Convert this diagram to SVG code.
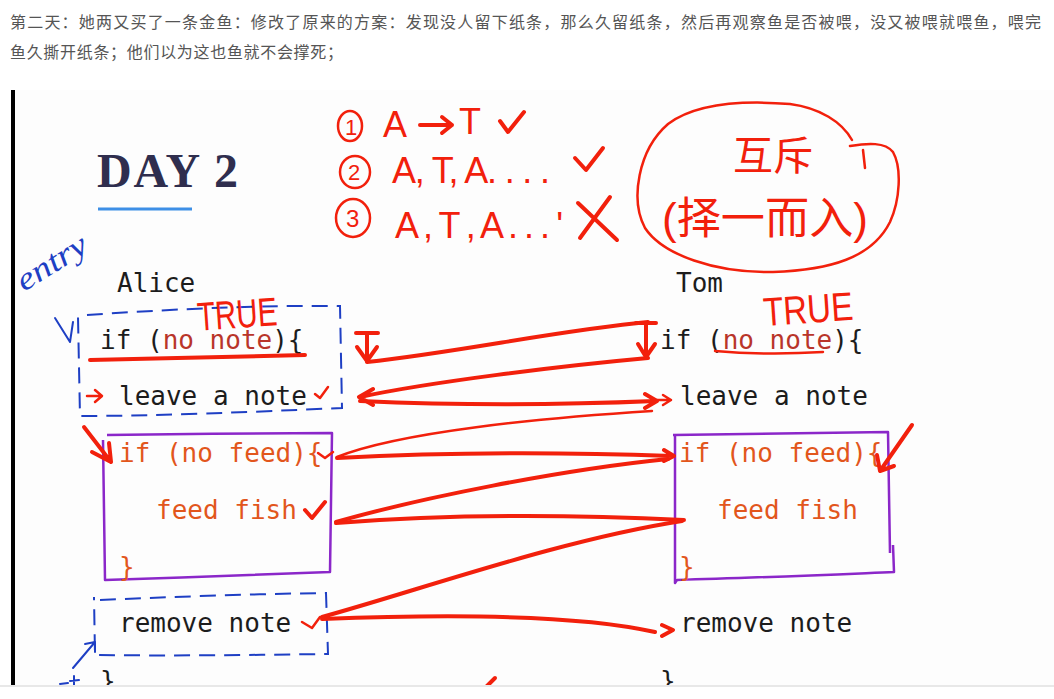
<svg xmlns="http://www.w3.org/2000/svg" width="1054" height="699" viewBox="0 0 1054 699">
<style>
.para{font-family:"Noto Sans CJK SC","Noto Sans",sans-serif;font-size:16px;fill:#555555}
.code{font-family:"DejaVu Sans Mono","Liberation Mono",monospace;font-size:26px;fill:#1c1c1c}
.or{fill:#e2561c}
.nn{fill:#b9352a}
.hand{font-family:"Liberation Sans",sans-serif;fill:#f2200c}
.handcjk{font-family:"Liberation Sans","Noto Sans CJK SC",sans-serif;fill:#f2200c}
.r{stroke:#f2200c;fill:none;stroke-linecap:round;stroke-linejoin:round;stroke-width:4}
.rt{stroke:#f2200c;fill:none;stroke-linecap:round;stroke-linejoin:round;stroke-width:2.5}
.b{stroke:#1e3fc4;fill:none;stroke-linecap:round;stroke-linejoin:round;stroke-width:2}
.bd{stroke:#1e3fc4;fill:none;stroke-width:2;stroke-dasharray:16 9}
.p{stroke:#8b27c9;fill:none;stroke-width:2.5;stroke-linejoin:round}
</style>
<rect width="1054" height="699" fill="#ffffff"/>
<g id="paragraph">
<text class="para" x="10" y="28" textLength="1031" lengthAdjust="spacing">第二天：她两又买了一条金鱼：修改了原来的方案：发现没人留下纸条，那么久留纸条，然后再观察鱼是否被喂，没又被喂就喂鱼，喂完</text>
<text class="para" x="10" y="58" textLength="333" lengthAdjust="spacing">鱼久撕开纸条；他们以为这也鱼就不会撑死；</text>
</g>
<g id="slide">
<rect x="14" y="90" width="1040" height="596" fill="#fdfdfd"/>
<rect x="11" y="90" width="4" height="596" fill="#000"/>
</g>
<g id="title">
<text x="97" y="187" font-family="Liberation Serif,serif" font-weight="bold" font-size="48" fill="#2f2e4e" textLength="141" lengthAdjust="spacing">DAY 2</text>
<line x1="98" y1="209" x2="192" y2="209" stroke="#3d8fe6" stroke-width="3"/>
</g>
<g id="cases">
<ellipse class="rt" cx="350" cy="126" rx="12" ry="15"/>
<text class="hand" x="345" y="135" font-size="22">1</text>
<text class="hand" x="383" y="137" font-size="36">A</text>
<path class="r" d="M420,125 L452,125 M442,117 L452,125 L442,133"/>
<text class="hand" x="459" y="134" font-size="36">T</text>
<path class="r" d="M500,121 L508,132 L524,112"/>
<ellipse class="rt" cx="355" cy="172" rx="15" ry="16"/>
<text class="hand" x="348" y="180" font-size="22">2</text>
<text class="hand" x="392" y="183" font-size="36" textLength="158" lengthAdjust="spacing">A, T, A. . . .</text>
<path class="r" d="M575,158 L586,170 L603,148"/>
<ellipse class="rt" cx="353" cy="218" rx="17" ry="19"/>
<text class="hand" x="346" y="227" font-size="24">3</text>
<text class="hand" x="395" y="238" font-size="36" textLength="168" lengthAdjust="spacing">A , T , A . . . '</text>
<path class="r" d="M578,203 L617,240 M610,197 L580,238"/>
</g>
<g id="mutex">
<path class="rt" d="M850,146 C868,143 885,142 893,152 C902,168 900,200 890,222 C872,258 830,270 773,272 C715,273 663,255 645,228 C630,200 638,150 668,124 C695,104 740,100 790,104 C820,108 842,122 852,140"/>
<path class="rt" d="M863,150 L865,168"/>
<text class="handcjk" x="733" y="170" font-size="40">互斥</text>
<text class="handcjk" x="662" y="234" font-size="44" textLength="206" lengthAdjust="spacingAndGlyphs">(择一而入)</text>
</g>
<g id="alice">
<g id="alice-name"><text class="code" x="117" y="292">Alice</text></g>
<g id="alice-if-note"><text class="code" x="100" y="349">if (<tspan class="nn">no note</tspan>){</text></g>
<g id="alice-leave"><text class="code" x="119" y="405">leave a note</text></g>
<g id="alice-feed-block">
<path class="p" d="M107,435 C180,434 260,433 332,433 L330,572 C260,574 180,578 105,580 L103,440"/>
<text class="code or" x="119" y="462">if (no feed){</text>
<text class="code or" x="156" y="519">feed fish</text>
<text class="code or" x="119" y="576">}</text>
</g>
<g id="alice-remove"><text class="code" x="119" y="632">remove note</text></g>
<g id="alice-end"><text class="code" x="100" y="690">}</text></g>
<path class="bd" d="M87,315 C160,310 250,305 340,306 L342,408 C250,412 160,416 80,416 L78,317"/>
<path class="bd" d="M100,600 C170,597 250,594 326,593 L328,654 C250,655 170,656 95,655 L94,597"/>
</g>
<g id="tom">
<g id="tom-name"><text class="code" x="676" y="292">Tom</text></g>
<g id="tom-if-note"><text class="code" x="660" y="349">if (<tspan class="nn">no note</tspan>){</text></g>
<g id="tom-leave"><text class="code" x="680" y="405">leave a note</text></g>
<g id="tom-feed-block">
<path class="p" d="M673,435 C750,434 820,433 888,432 L890,553 M893,545 L894,572 C820,575 750,578 677,580 L675,583 L675,435"/>
<text class="code or" x="679" y="462">if (no feed){</text>
<text class="code or" x="717" y="519">feed fish</text>
<text class="code or" x="679" y="576">}</text>
</g>
<g id="tom-remove"><text class="code" x="680" y="632">remove note</text></g>
<g id="tom-end"><text class="code" x="660" y="690">}</text></g>
</g>
<g id="annotations">
<text x="24" y="292" transform="rotate(-32 24 292)" font-family="Liberation Serif,serif" font-style="italic" font-size="32" fill="#1e3fc4" textLength="78" lengthAdjust="spacingAndGlyphs">entry</text>
<path class="b" d="M55,318 L70,342 L73,322"/>
<path class="b" d="M73,668 L95,642 M85,644 L95,642 L95,652"/>
<path class="b" d="M60,684 L68,683 M74,676 L74,688 M70,681 L79,680"/>
<text class="hand" x="197" y="328" font-size="40" textLength="80" lengthAdjust="spacingAndGlyphs" transform="rotate(-4 237 312)">TRUE</text>
<text class="hand" x="763" y="323" font-size="40" textLength="90" lengthAdjust="spacingAndGlyphs" transform="rotate(-4 808 308)">TRUE</text>
<path class="r" d="M90,360 C160,358 240,357 305,355"/>
<path class="rt" d="M715,351 C750,354 790,354 823,352"/>
<path class="rt" d="M87,396 L101,396 M95,390 L102,396 L95,402"/>
<path class="rt" d="M315,394 L320,398 L328,387"/>
<path class="rt" d="M318,453 L325,458 L333,452"/>
<path class="r" d="M305,510 L312,518 L325,502"/>
<path class="rt" d="M302,622 L312,628 L320,617"/>
<path class="r" d="M84,427 L111,462 M92,452 L111,462 L109,443"/>
<path class="r" d="M912,425 L880,471 M877,455 L880,471 L894,466"/>
<path class="r" d="M486,687 L495,678"/>
</g>
<g id="connectors">
<path class="r" stroke-width="5" d="M356,333 L378,333 M367,333 L367,360 M357,347 L367,361 L377,347"/>
<path class="r" d="M367,362 C460,352 560,330 648,322"/>
<path class="r" stroke-width="5" d="M636,323 L656,323 M646,323 L646,356 M638,344 L646,357 L655,344"/>
<path class="r" d="M648,358 C560,366 430,382 360,397 M373,389 L359,397 L373,405"/>
<path class="r" d="M360,401 C450,405 560,405 655,401 M645,394 L657,401 L645,408"/>
<path class="rt" d="M657,400 L671,400 M663,395 L671,400 L663,405"/>
<path class="rt" stroke-width="1.8" d="M652,411 C540,418 400,432 337,457"/>
<path class="r" d="M337,458 C450,452 560,452 672,456 M664,450 L674,456 L664,461"/>
<path class="r" d="M668,459 C560,470 420,498 336,522"/>
<path class="r" d="M336,523 C450,514 560,514 684,520"/>
<path class="r" d="M682,521 C560,540 420,590 322,617"/>
<path class="r" d="M322,619 C450,614 580,615 655,632 M662,625 L673,630 L662,636"/>
</g>
<g id="bottom-edge">
<rect x="0" y="686" width="1054" height="13" fill="#ffffff"/>
<line x1="0" y1="686" x2="1054" y2="686" stroke="#e8e8e8" stroke-width="2"/>
</g>
</svg>
